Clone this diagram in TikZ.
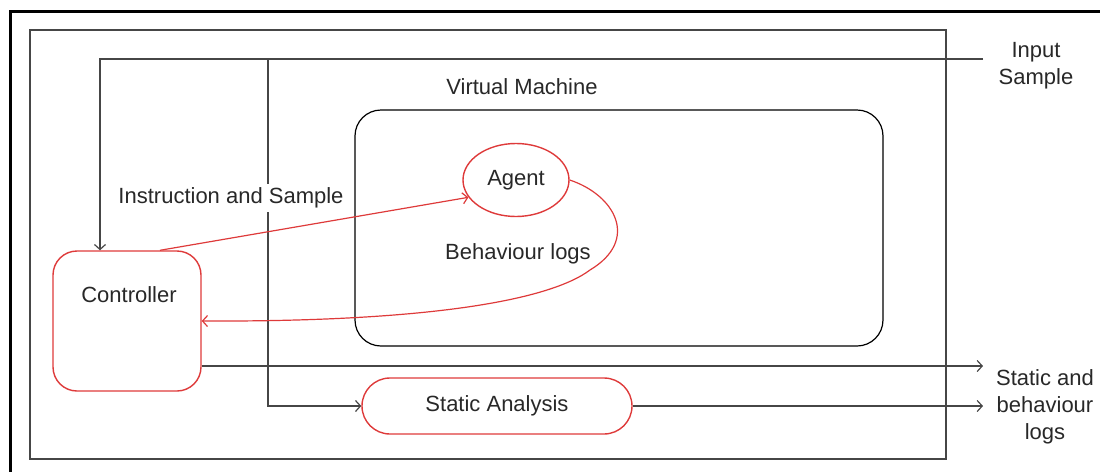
\documentclass[tikz,border=0pt]{standalone}
\usepackage{fontspec}
\setmainfont{Liberation Sans}
\usepackage{xcolor}
\usetikzlibrary{shapes.geometric, arrows.meta}

\definecolor{boxred}{RGB}{222,58,58}
\definecolor{linegray}{RGB}{70,70,70}
\definecolor{txtgray}{RGB}{40,40,40}

\tikzset{
  txt/.style={font=\fontsize{11}{13.5}\selectfont, text=txtgray, align=center, inner sep=1pt},
  redbox/.style={draw=boxred, line width=0.7pt, rounded corners=12pt, inner sep=0pt},
  conn/.style={linegray, line width=0.6pt},
  redconn/.style={boxred, line width=0.6pt}
}

\begin{document}
\begin{tikzpicture}[x=0.5pt, y=-0.5pt, >={Straight Barb[length=2.5pt, width=5.5pt]}]
    \useasboundingbox (0,0) rectangle (1100,472);
    % outer frame and the host box
    \draw[black, line width=1.5pt] (1100,11) -- (10,11) -- (10,472);
    \draw[conn] (30,30) rectangle (946,459);
    % the virtual machine and what runs in it
    \node[txt] (vmlabel) at (522,87) {Virtual Machine};
    \node[draw=black, line width=0.6pt, rounded corners=13pt, minimum width=264pt, minimum height=118pt] (vm) at (619,228) {};
    \node[ellipse, draw=boxred, line width=0.7pt, minimum width=53pt, minimum height=36.5pt, inner sep=0pt] (agent) at (516,180) {};
    \node[txt] (agentlabel) at (516,180) {Agent};
    % controller and static analysis
    \node[redbox, minimum width=74pt, minimum height=70pt] (ctrl) at (127,321) {};
    \node[txt] (ctrllabel) at (129,295) {Controller};
    \node[redbox, rounded corners=14pt, minimum width=135pt, minimum height=28pt] (static) at (497,406) {};
    \node[txt] (staticlabel) at (static.center) {Static Analysis};
    % input sample comes in from the right
    \coordinate (in) at (983,59);
    \coordinate (split) at (100,59);
    \coordinate (tap) at (268,59);
    \draw[conn, ->] (in) -- (split) -- (split |- ctrl.north);
    \draw[conn, ->] (tap) |- (static.west);
    \node[txt, fill=white, inner sep=2pt] (instr) at (231,198) {Instruction and Sample};
    \node[txt] (inlabel) at (1036,66) {Input\\Sample};
    % controller <-> agent
    \draw[redconn, ->] (ctrl.65) -- (agent.200);
    \draw[redconn, ->] (agent.east) .. controls (615,195) and (640,240) .. (590,270)
        .. controls (550,300) and (430,322) .. (ctrl.east);
    \node[txt] (behlabel) at (518,254) {Behaviour logs};
    % logs go out to the right
    \coordinate (out1) at (983,366);
    \coordinate (out2) at (983,406);
    \draw[conn, ->] (ctrl.east |- out1) -- (out1);
    \draw[conn, ->] (static.east) -- (out2);
    \node[txt] (outlabel) at (1045,407) {Static and\\behaviour\\logs};
\end{tikzpicture}
\end{document}
